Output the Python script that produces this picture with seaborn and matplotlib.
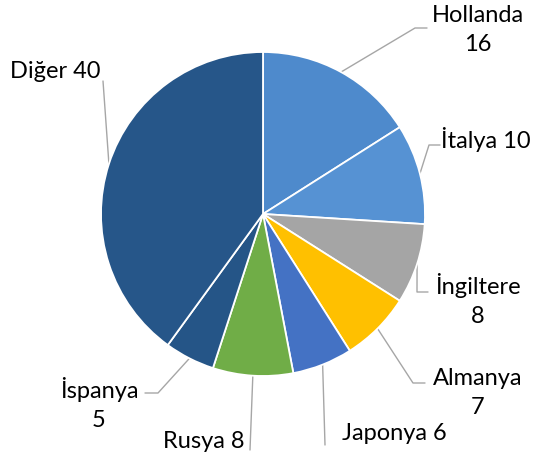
import matplotlib
matplotlib.use("Agg")
import matplotlib.pyplot as plt
import numpy as np
import seaborn as sns

# değerler (saat yönünde, tepeden başlayarak)
countries = ["Hollanda", "İtalya", "İngiltere", "Almanya", "Japonya", "Rusya", "İspanya", "Diğer"]
values = [16, 10, 8, 7, 6, 8, 5, 40]
colors = ["#4E8ACC", "#5692D3", "#A5A5A5", "#FFC000", "#4472C4", "#70AD47", "#255587", "#265689"]
label_text = ["Hollanda\n16", "İtalya 10", "İngiltere\n8", "Almanya\n7", "Japonya 6", "Rusya 8", "İspanya\n5", "Diğer 40"]

# etiket yerleşimi (piksel, y aşağı doğru): metin konumu, hizalama, kırılma noktaları
label_pos = [(478, 30), (441, 140), (478, 300), (478, 393), (342, 433), (163, 441), (99, 404), (10, 72)]
label_ha = ["center", "left", "center", "center", "left", "left", "center", "left"]
elbows = [
    [(415, 28), (427, 28)],
    [(429, 145), (440, 145)],
    [(417, 292), (428, 292)],
    [(413, 383), (425, 383)],
    [(325, 445)],
    [(250, 450)],
    [(158, 393), (145, 393)],
    [(103, 81)],
]

sns.set_theme(style="white")
plt.rcParams["font.family"] = ["Lato", "DejaVu Sans"]

W, H = 538, 461
cx, cy, r = 263, 214, 162
fig = plt.figure(figsize=(W / 100, H / 100), dpi=100)
ax = fig.add_axes([0, 0, 1, 1])

ax.pie(values, colors=colors, startangle=90, counterclock=False,
       center=(cx, H - cy), radius=r,
       wedgeprops=dict(edgecolor="white", linewidth=1.3))
ax.set_xlim(0, W)
ax.set_ylim(0, H)
ax.set_aspect("equal")
ax.axis("off")

# kılavuz çizgileri: dilimin orta açısından etikete
cum = np.cumsum([0] + values)
total = cum[-1]
for i, lab in enumerate(label_text):
    mid = (cum[i] + cum[i + 1]) / 2 / total * 2 * np.pi
    sx, sy = cx + r * np.sin(mid), cy - r * np.cos(mid)
    pts = [(sx, sy)] + elbows[i]
    xs = [p[0] for p in pts]
    ys = [H - p[1] for p in pts]
    ax.plot(xs, ys, color="#A6A6A6", lw=1.0, zorder=0)
    tx, ty = label_pos[i]
    ax.text(tx, H - ty, lab, ha=label_ha[i], va="center", multialignment="center",
            fontsize=17, color="black", linespacing=1.45)

fig.savefig("out.png", dpi=100)
